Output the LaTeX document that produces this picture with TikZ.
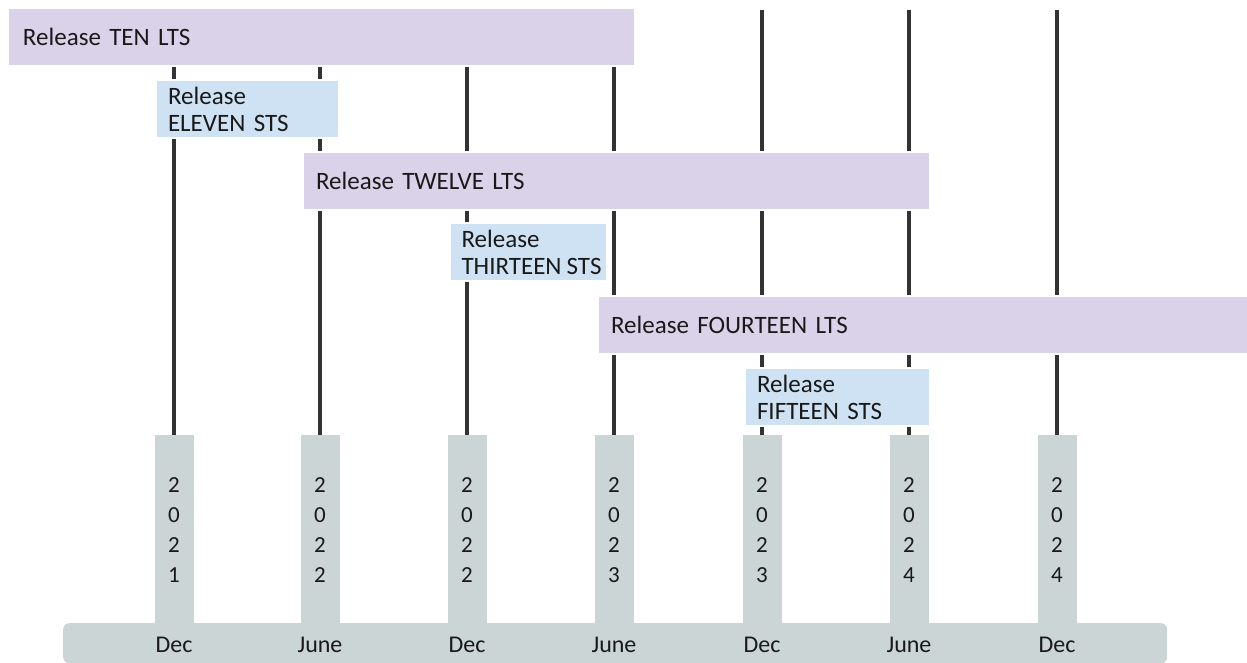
\documentclass[tikz,border=0pt]{standalone}
\usepackage{fontspec}
\setmainfont{Carlito}
\definecolor{ltsfill}{HTML}{D9D2E9}
\definecolor{stsfill}{HTML}{CFE2F3}
\definecolor{grayfill}{HTML}{CCD5D5}
\definecolor{linecol}{HTML}{333333}
\begin{document}
\begin{tikzpicture}[x=1pt,y=-1pt,
  relbox/.style={draw=white, line width=2pt, anchor=north west, inner xsep=15pt, inner ysep=0pt,
    align=left, font=\fontsize{25}{27}\selectfont, text=black!90},
  ltsbox/.style={relbox, fill=ltsfill},
  stsbox/.style={relbox, fill=stsfill},
  colbox/.style={fill=grayfill, minimum width=39pt, minimum height=190pt, anchor=north, inner sep=0pt,
    align=center, font=\fontsize{23}{30}\selectfont, text=black!90},
  month/.style={font=\fontsize{24}{28}\selectfont, text=black!90, inner sep=0pt},
  vline/.style={draw=linecol, line width=4pt}]
\useasboundingbox (0,0) rectangle (1247,662);
% bottom bar
\node[fill=grayfill, rounded corners=6pt, minimum width=1104pt, minimum height=40pt, anchor=north west, inner sep=0pt] (bar) at (63,623) {};
% columns
\foreach \i/\x in {1/174,2/320,3/467,4/614,5/762,6/909,7/1057}{
  \coordinate (t\i) at (\x,10);
}
\node[colbox] (c1) at (174,435) {2\\0\\2\\1};
\node[colbox] (c2) at (320,435) {2\\0\\2\\2};
\node[colbox] (c3) at (467,435) {2\\0\\2\\2};
\node[colbox] (c4) at (614,435) {2\\0\\2\\3};
\node[colbox] (c5) at (762,435) {2\\0\\2\\3};
\node[colbox] (c6) at (909,435) {2\\0\\2\\4};
\node[colbox] (c7) at (1057,435) {2\\0\\2\\4};
\foreach \i in {1,...,7}{ \draw[vline] (t\i) -- (c\i.north); }
% months
\node[month] (m1) at (174,645) {Dec};
\node[month] (m2) at (320,645) {June};
\node[month] (m3) at (467,645) {Dec};
\node[month] (m4) at (614,645) {June};
\node[month] (m5) at (762,645) {Dec};
\node[month] (m6) at (909,645) {June};
\node[month] (m7) at (1057,645) {Dec};
% release boxes
\node[ltsbox, text width=597pt, minimum height=58pt] (ten) at (7,7) {Release TEN LTS};
\node[stsbox, text width=159pt, minimum height=58pt, inner xsep=12pt] (eleven) at (155,79) {Release\\ELEVEN STS};
\node[ltsbox, text width=601pt, minimum height=58pt, inner xsep=13pt] (twelve) at (302,151) {Release TWELVE LTS};
\node[stsbox, minimum width=157pt, minimum height=58pt, inner xsep=5.5pt] (thirteen) at (449,222) {\hspace*{6pt}\parbox[c]{140pt}{\raggedright Release\\THIRTEEN STS}};
\node[ltsbox, text width=624pt, minimum height=58pt, inner xsep=13pt] (fourteen) at (597,295) {Release FOURTEEN LTS};
\node[stsbox, text width=161pt, minimum height=58pt, inner xsep=12pt] (fifteen) at (744,367) {Release\\FIFTEEN STS};
\end{tikzpicture}
\end{document}
